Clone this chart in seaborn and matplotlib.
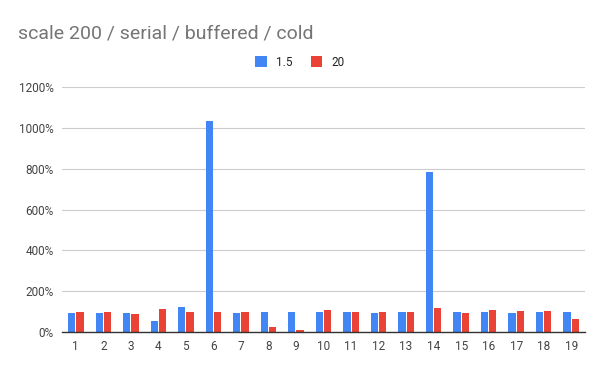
import matplotlib
matplotlib.use("Agg")
import matplotlib.pyplot as plt
import seaborn as sns
import pandas as pd
from matplotlib.ticker import FuncFormatter

categories = [str(i) for i in range(1, 20)]
series_names = ["1.5", "20"]
values_15 = [93, 93, 93, 55, 123, 1035, 93, 98, 98, 98, 98, 93, 98, 784, 98, 98, 93, 98, 98]
values_20 = [98, 98, 89, 113, 98, 98, 98, 26, 11, 108, 98, 98, 98, 118, 93, 108, 103, 103, 64]
yticks = [0, 200, 400, 600, 800, 1000, 1200]

df = pd.DataFrame({
    "cat": categories * 2,
    "series": [series_names[0]] * len(categories) + [series_names[1]] * len(categories),
    "value": values_15 + values_20,
})

sns.set_theme(style="white")
plt.rcParams['font.family'] = ['Roboto', 'DejaVu Sans']

fig = plt.figure(figsize=(6, 3.71), dpi=100)
ax = fig.add_axes([62/600, 1 - 332/371, (585 - 62)/600, (332 - 87)/371])

sns.barplot(data=df, x="cat", y="value", hue="series", order=categories,
            hue_order=series_names, palette=["#4285F4", "#EA4335"],
            width=0.6, gap=0.12, ax=ax, legend=True, saturation=1,
            linewidth=0, edgecolor="none")

ax.set_ylim(0, 1200)
ax.set_yticks(yticks)
ax.yaxis.set_major_formatter(FuncFormatter(lambda v, p: f"{int(v)}%"))
ax.grid(axis="y", color="#cccccc", linewidth=0.8)
ax.set_axisbelow(True)
ax.set_xlim(-0.5, len(categories) - 0.5)
ax.set_xlabel("")
ax.set_ylabel("")
for s in ["top", "right", "left"]:
    ax.spines[s].set_visible(False)
ax.spines["bottom"].set_color("#333333")
ax.spines["bottom"].set_linewidth(1.0)
ax.tick_params(axis="both", length=0, labelsize=8.5, colors="#444444", pad=6)

leg = ax.legend(loc="center", bbox_to_anchor=(300/600, 1 - 62/371), bbox_transform=fig.transFigure,
                ncol=2, frameon=False, fontsize=8.5, handlelength=1.0, handleheight=1.0,
                columnspacing=1.5, handletextpad=0.8)
for t in leg.get_texts():
    t.set_color("#222222")

fig.text(18/600, 1 - 33/371, "scale 200 / serial / buffered / cold", fontsize=14,
         color="#757575", va="center", ha="left")

fig.savefig("out.png", dpi=100)
